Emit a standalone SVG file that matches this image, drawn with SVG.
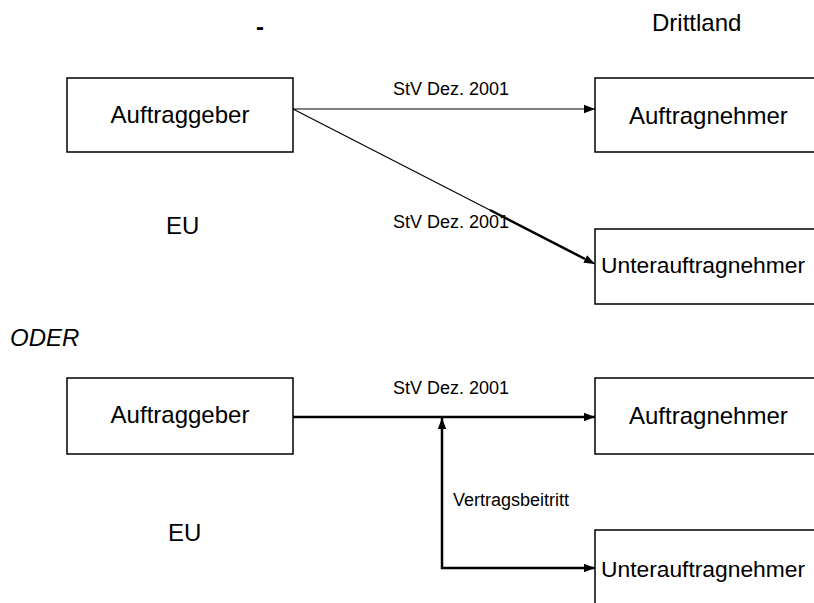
<svg xmlns="http://www.w3.org/2000/svg" width="814" height="603" viewBox="0 0 814 603">
<style>
text{font-family:"Liberation Sans",Arial,sans-serif;fill:#000}
.box{fill:#fff;stroke:#000;stroke-width:1.5}
.t{font-size:24px}
.u{font-size:22.8px}
.lab{font-size:18px}
.c1{fill:none;stroke:#000;stroke-width:1.2}
.c2{fill:none;stroke:#000;stroke-width:2.5}
</style>
<defs>
<marker id="ah" markerUnits="userSpaceOnUse" markerWidth="12" markerHeight="10" viewBox="0 0 12 10" refX="11" refY="5" orient="auto-start-reverse">
<path d="M0,0.8 L11,5 L0,9.2 Z" fill="#000"/>
</marker>
</defs>
<rect width="814" height="603" fill="#fff"/>
<text x="256" y="35" class="t" font-weight="bold">-</text>
<text x="652" y="31" class="t">Drittland</text>
<text x="166" y="234" class="t">EU</text>
<text x="10" y="346" class="t" font-style="italic">ODER</text>
<text x="168" y="541" class="t">EU</text>

<g id="top-auftraggeber">
<rect class="box" x="67" y="78" width="226" height="74"/>
<text x="180" y="123" class="t" text-anchor="middle">Auftraggeber</text>
</g>
<g id="top-auftragnehmer">
<rect class="box" x="595" y="78" width="230" height="74"/>
<text x="629" y="124" class="t">Auftragnehmer</text>
</g>
<g id="top-unterauftragnehmer">
<rect class="box" x="595" y="229" width="230" height="75"/>
<text x="601" y="273" class="u">Unterauftragnehmer</text>
</g>
<g id="bottom-auftraggeber">
<rect class="box" x="67" y="378" width="226" height="76"/>
<text x="180" y="423" class="t" text-anchor="middle">Auftraggeber</text>
</g>
<g id="bottom-auftragnehmer">
<rect class="box" x="595" y="378" width="230" height="76"/>
<text x="629" y="424" class="t">Auftragnehmer</text>
</g>
<g id="bottom-unterauftragnehmer">
<rect class="box" x="595" y="530" width="230" height="90"/>
<text x="601" y="577" class="u">Unterauftragnehmer</text>
</g>

<g id="connectors">
<line class="c1" x1="293" y1="109" x2="595" y2="109" marker-end="url(#ah)"/>
<text x="393" y="95" class="lab">StV Dez. 2001</text>
<line class="c1" x1="293" y1="109" x2="595" y2="264" marker-end="url(#ah)"/>
<line class="c2" x1="490" y1="210" x2="585" y2="259"/>
<text x="393" y="228" class="lab">StV Dez. 2001</text>
<line class="c2" x1="293" y1="417" x2="595" y2="417" marker-end="url(#ah)"/>
<text x="393" y="394" class="lab">StV Dez. 2001</text>
<path class="c2" d="M442,418 L442,568 L595,568" marker-start="url(#ah)" marker-end="url(#ah)"/>
<text x="453" y="506" class="lab">Vertragsbeitritt</text>
</g>
</svg>
